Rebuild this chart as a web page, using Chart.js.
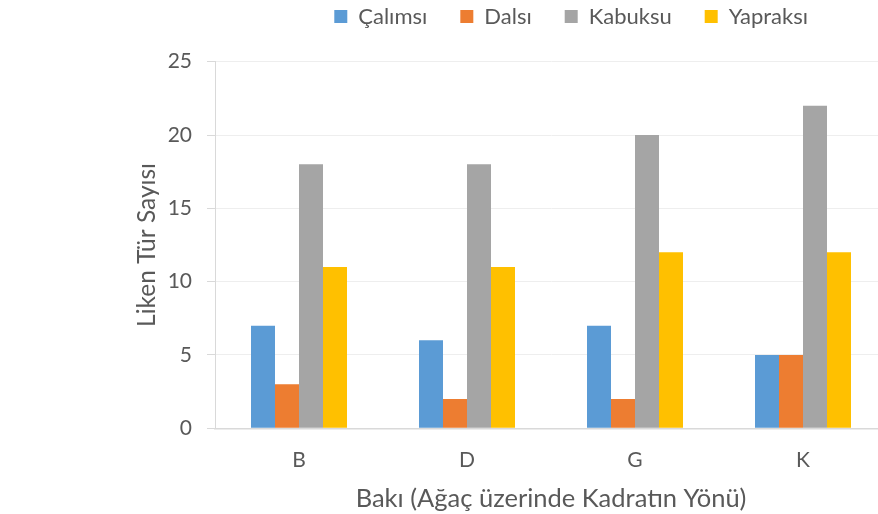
<!DOCTYPE html>
<html>
<head>
<meta charset="utf-8">
<script src="https://cdn.jsdelivr.net/npm/chart.js@4/dist/chart.umd.min.js"></script>
<style>
  html, body { margin: 0; padding: 0; background: #fff; overflow: hidden; }
  #wrap { width: 1014px; height: 514px; }
</style>
</head>
<body>
<div id="wrap"><canvas id="likenChart" width="1014" height="514"></canvas></div>
<script>
// Data
const categories = ['B', 'D', 'G', 'K'];
const calimsi = [7, 6, 7, 5];
const dalsi = [3, 2, 2, 5];
const kabuksu = [18, 18, 20, 22];
const yapraksi = [11, 11, 12, 12];
const yTicks = [0, 5, 10, 15, 20, 25];

const textColor = '#595959';
const fontFamily = 'Lato, "Open Sans", sans-serif';

// legend keeps its horizontal spacing but gets a fixed height
const legendHeight = {
    id: 'legendHeight',
    beforeInit(chart) {
        const fit = chart.legend.fit;
        chart.legend.fit = function () {
            fit.bind(chart.legend)();
            this.height = 89.2;
        };
    }
};

const ctx = document.getElementById('likenChart').getContext('2d');
const likenChart = new Chart(ctx, {
    type: 'bar',
    data: {
        labels: categories,
        datasets: [
            { label: 'Çalımsı', data: calimsi, backgroundColor: '#5B9BD5' },
            { label: 'Dalsı', data: dalsi, backgroundColor: '#ED7D31' },
            { label: 'Kabuksu', data: kabuksu, backgroundColor: '#A5A5A5' },
            { label: 'Yapraksı', data: yapraksi, backgroundColor: '#FFC000' }
        ]
    },
    options: {
        responsive: false,
        animation: false,
        devicePixelRatio: 1,
        layout: { padding: { top: -27.5, left: 128.3, right: 0, bottom: 0 } },
        datasets: {
            bar: { barPercentage: 1, categoryPercentage: 0.5714 }
        },
        plugins: {
            legend: {
                position: 'top',
                labels: {
                    color: textColor,
                    font: { family: fontFamily, size: 22 },
                    boxWidth: 13,
                    boxHeight: 13,
                    padding: 33
                }
            },
            tooltip: { enabled: false }
        },
        scales: {
            x: {
                offset: true,
                grid: { display: false, drawTicks: false },
                border: { color: '#D9D9D9', width: 1.5 },
                ticks: { color: textColor, font: { family: fontFamily, size: 21 }, padding: 19 },
                title: {
                    display: true,
                    text: 'Bakı (Ağaç üzerinde Kadratın Yönü)',
                    color: textColor,
                    font: { family: fontFamily, size: 25.5 },
                    padding: { top: 0, bottom: 0 }
                },
                afterFit(scale) { scale.height = 85.7; }
            },
            y: {
                min: 0,
                max: 25,
                afterBuildTicks(scale) { scale.ticks = yTicks.map(v => ({ value: v })); },
                grid: { color: '#EEEEEE', tickColor: '#D9D9D9', tickLength: 8 },
                border: { color: '#D9D9D9', width: 1 },
                ticks: { color: textColor, font: { family: fontFamily, size: 21 }, padding: 15 },
                title: {
                    display: true,
                    text: 'Liken Tür Sayısı',
                    color: textColor,
                    font: { family: fontFamily, size: 24.5 },
                    padding: { top: 4, bottom: 4 }
                },
                afterFit(scale) { scale.width = 86.7; }
            },
            // empty right axis, only reserves the space past the visible edge
            yRight: {
                position: 'right',
                grid: { display: false },
                border: { display: false },
                ticks: { display: false },
                afterFit(scale) { scale.width = 127; }
            }
        }
    },
    plugins: [legendHeight]
});
</script>
</body>
</html>
